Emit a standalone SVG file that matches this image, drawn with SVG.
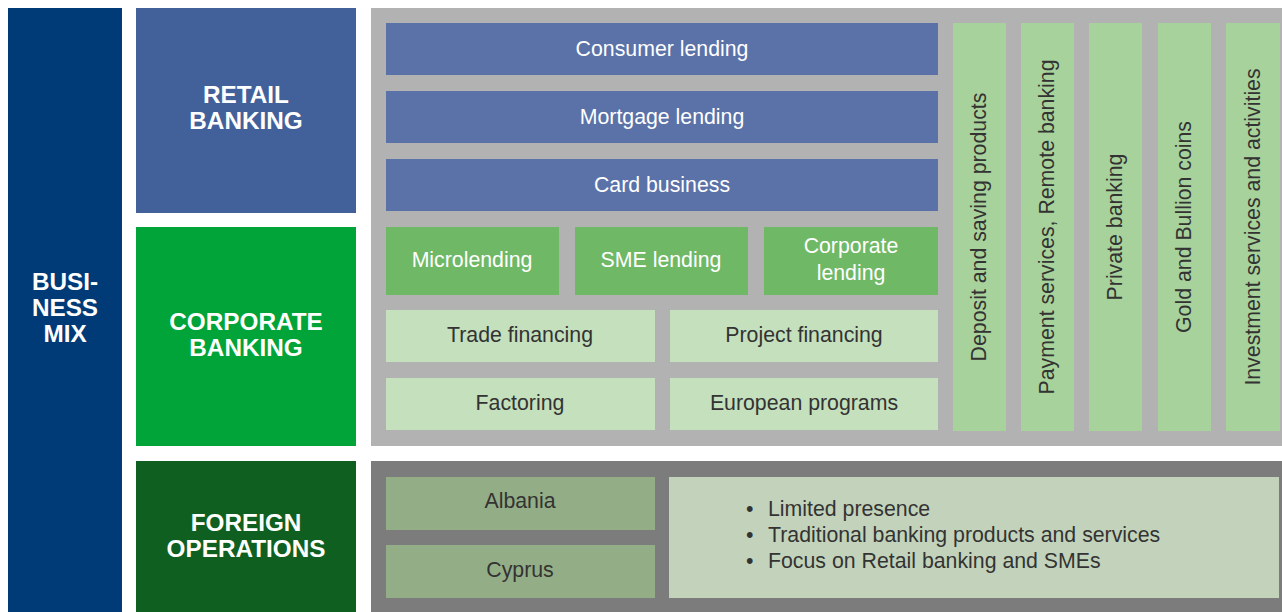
<svg xmlns="http://www.w3.org/2000/svg" width="1282" height="612" viewBox="0 0 1282 612">
<style>
.h{font-family:"Liberation Sans",Arial,sans-serif;font-weight:bold;font-size:24.3px;fill:#fff;text-anchor:middle}
.t{font-family:"Liberation Sans",Arial,sans-serif;font-size:21.3px;text-anchor:middle}
.w{fill:#fff}
.d{fill:#333}
.blue{fill:#5a72a8}
.mg{fill:#6fb866}
.lg{fill:#c5e0bd}
.vg{fill:#a8d29b}
</style>
<rect width="1282" height="612" fill="#fff"/>
<g id="business-mix">
<rect x="8" y="8" width="114" height="604" fill="#003b77"/>
<text class="h" x="65" y="290">BUSI-</text>
<text class="h" x="65" y="316">NESS</text>
<text class="h" x="65" y="342">MIX</text>
</g>
<g id="retail-banking">
<rect x="136" y="8" width="220" height="205" fill="#42619a"/>
<text class="h" x="246" y="103">RETAIL</text>
<text class="h" x="246" y="129">BANKING</text>
</g>
<g id="corporate-banking">
<rect x="136" y="227" width="220" height="219" fill="#00a438"/>
<text class="h" x="246" y="330">CORPORATE</text>
<text class="h" x="246" y="356">BANKING</text>
</g>
<g id="foreign-operations">
<rect x="136" y="461" width="220" height="151" fill="#0f5f20"/>
<text class="h" x="246" y="531">FOREIGN</text>
<text class="h" x="246" y="557">OPERATIONS</text>
</g>
<g id="domestic-panel">
<rect x="371" y="8" width="911" height="438" fill="#b2b2b2"/>
</g>
<g id="consumer-lending"><rect class="blue" x="386" y="23" width="552" height="52"/><text class="t w" x="662" y="56">Consumer lending</text></g>
<g id="mortgage-lending"><rect class="blue" x="386" y="91" width="552" height="52"/><text class="t w" x="662" y="124">Mortgage lending</text></g>
<g id="card-business"><rect class="blue" x="386" y="159" width="552" height="52"/><text class="t w" x="662" y="192">Card business</text></g>
<g id="microlending"><rect class="mg" x="386" y="227" width="173" height="68"/><text class="t w" x="472" y="267">Microlending</text></g>
<g id="sme-lending"><rect class="mg" x="575" y="227" width="173" height="68"/><text class="t w" x="661" y="267">SME lending</text></g>
<g id="corporate-lending"><rect class="mg" x="764" y="227" width="174" height="68"/><text class="t w" x="851" y="253">Corporate</text><text class="t w" x="851" y="280">lending</text></g>
<g id="trade-financing"><rect class="lg" x="386" y="310" width="269" height="52"/><text class="t d" x="520" y="342">Trade financing</text></g>
<g id="project-financing"><rect class="lg" x="670" y="310" width="268" height="52"/><text class="t d" x="804" y="342">Project financing</text></g>
<g id="factoring"><rect class="lg" x="386" y="378" width="269" height="52"/><text class="t d" x="520" y="410">Factoring</text></g>
<g id="european-programs"><rect class="lg" x="670" y="378" width="268" height="52"/><text class="t d" x="804" y="410">European programs</text></g>
<g id="deposit"><rect class="vg" x="953" y="23" width="53" height="408"/><text class="t d" transform="translate(986 227) rotate(-90)">Deposit and saving products</text></g>
<g id="payment"><rect class="vg" x="1021" y="23" width="53" height="408"/><text class="t d" transform="translate(1054 227) rotate(-90)">Payment services, Remote banking</text></g>
<g id="private-banking"><rect class="vg" x="1089" y="23" width="53" height="408"/><text class="t d" transform="translate(1122 227) rotate(-90)">Private banking</text></g>
<g id="gold"><rect class="vg" x="1158" y="23" width="53" height="408"/><text class="t d" transform="translate(1191 227) rotate(-90)">Gold and Bullion coins</text></g>
<g id="investment"><rect class="vg" x="1226" y="23" width="54" height="408"/><text class="t d" transform="translate(1260 227) rotate(-90)">Investment services and activities</text></g>
<g id="foreign-panel">
<rect x="371" y="461" width="911" height="151" fill="#7c7c7c"/>
</g>
<g id="albania"><rect x="386" y="477" width="269" height="53" fill="#93ae86"/><text class="t d" x="520" y="508">Albania</text></g>
<g id="cyprus"><rect x="386" y="545" width="269" height="53" fill="#93ae86"/><text class="t d" x="520" y="577">Cyprus</text></g>
<g id="foreign-notes">
<rect x="669" y="477" width="610" height="121" fill="#c3d3bb"/>
<g font-family="Liberation Sans, Arial, sans-serif" font-size="21.3" fill="#333">
<text x="746" y="516">•</text><text x="768" y="516">Limited presence</text>
<text x="746" y="542">•</text><text x="768" y="542">Traditional banking products and services</text>
<text x="746" y="568">•</text><text x="768" y="568">Focus on Retail banking and SMEs</text>
</g>
</g>
<g id="connectors"/>
</svg>
